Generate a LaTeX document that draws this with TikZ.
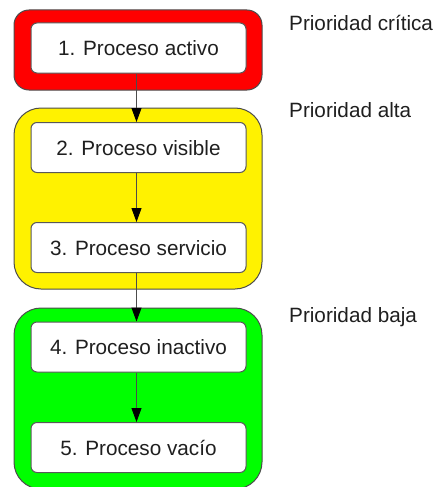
\documentclass[tikz,border=0pt]{standalone}
\usepackage{fontspec}
\setmainfont{Liberation Sans}
\usetikzlibrary{arrows.meta}
\begin{document}
\begin{tikzpicture}[x=1pt,y=-1pt,
  txt/.style={font=\fontsize{20.7}{24}\selectfont, text=black!88},
  group/.style={draw=black!70, line width=1pt, minimum width=248pt, inner sep=0pt},
  proc/.style={txt, draw=black!65, fill=white, line width=1pt, rounded corners=6pt,
    minimum width=215pt, minimum height=50pt, text height=15pt, text depth=0pt, inner sep=0pt},
  lbl/.style={txt, anchor=base west, inner sep=0pt},
  link/.style={draw=black!70, line width=1pt, -{Triangle[length=14pt,width=10pt,black]}}]
\useasboundingbox (0,0) rectangle (436,487);
% groups
\node[group, fill=red, rounded corners=15pt, minimum height=80pt] (gr) at (138,50) {};
\node[group, fill=yellow, rounded corners=27pt, minimum height=181pt] (gy) at (138,198.5) {};
\node[group, fill=green, rounded corners=27pt, minimum height=181pt] (gg) at (138,398.5) {};
% processes
\node[proc] (p1) at (138.5,48) {1. Proceso activo};
\node[proc] (p2) at (138.5,147.5) {2. Proceso visible};
\node[proc] (p3) at (138.5,247.5) {3. Proceso servicio};
\node[proc] (p4) at (138.5,347) {4. Proceso inactivo};
\node[proc] (p5) at (138.5,447.5) {5. Proceso vacío};
% connectors
\draw[link] ([xshift=-2pt]p1.south) -- ([xshift=-2pt]p2.north);
\draw[link] ([xshift=-2pt]p2.south) -- ([xshift=-2pt]p3.north);
\draw[link] ([xshift=-2pt]p3.south) -- ([xshift=-2pt]p4.north);
\draw[link] ([xshift=-2pt]p4.south) -- ([xshift=-2pt]p5.north);
% labels
\node[lbl] (l1) at (289,31) {Prioridad crítica};
\node[lbl] (l2) at (289,117) {Prioridad alta};
\node[lbl] (l3) at (289,322) {Prioridad baja};
\end{tikzpicture}
\end{document}
